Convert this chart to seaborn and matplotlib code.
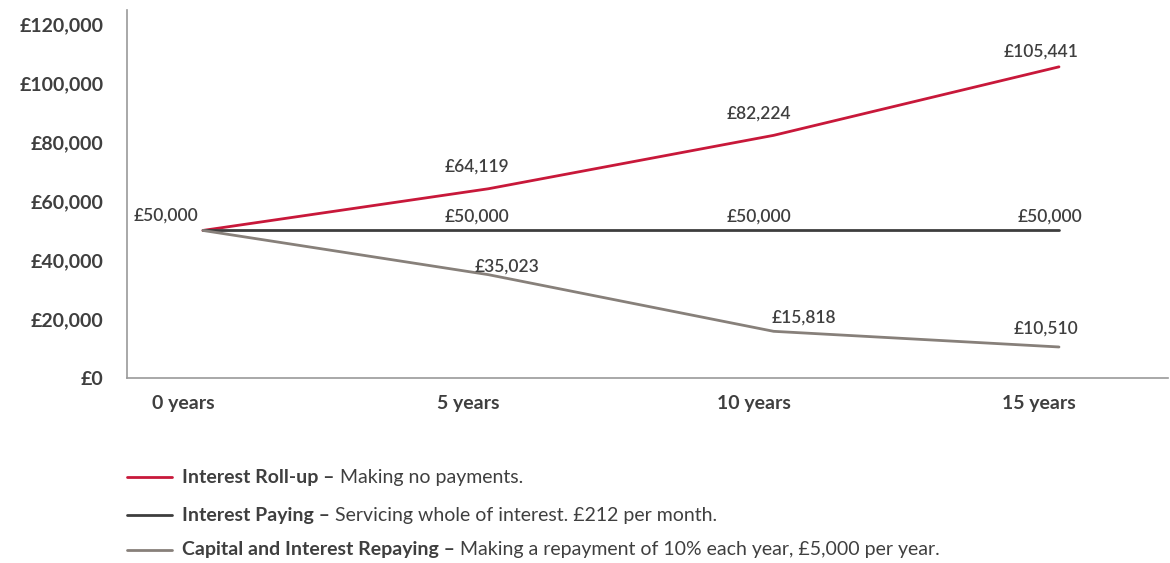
from __future__ import annotations

import matplotlib

matplotlib.use("Agg")

import matplotlib.pyplot as plt
import pandas as pd
import seaborn as sns
from matplotlib.lines import Line2D


YEARS = ["0 years", "5 years", "10 years", "15 years"]
ROLL_UP = [50000, 64119, 82224, 105441]
INTEREST_PAYING = [50000, 50000, 50000, 50000]
CAPITAL_REPAYING = [50000, 35023, 15818, 10510]

SERIES = ["Interest Roll-up", "Interest Paying", "Capital and Interest Repaying"]
SERIES_NOTES = [
    "Making no payments.",
    "Servicing whole of interest. £212 per month.",
    "Making a repayment of 10% each year, £5,000 per year.",
]
Y_TICKS = [0, 20000, 40000, 60000, 80000, 100000, 120000]

COLORS = {
    "Interest Roll-up": "#c8183a",
    "Interest Paying": "#3d3d3d",
    "Capital and Interest Repaying": "#87807a",
}
TEXT = "#3f3f3f"
FONT = "Lato"

# label offsets in pixels (dx, dy) relative to each point
LABEL_OFFSETS = {
    "Interest Roll-up": [None, (-11, 22), (-15, 22), (-18, 15)],
    "Interest Paying": [(-37, 15), (-11, 14), (-15, 14), (-9, 14)],
    "Capital and Interest Repaying": [None, (19, 8), (30, 14), (-13, 18)],
}


def build_frame() -> pd.DataFrame:
    rows = []
    for name, values in zip(SERIES, [ROLL_UP, INTEREST_PAYING, CAPITAL_REPAYING]):
        for year, value in zip(YEARS, values):
            rows.append({"period": year, "value": value, "series": name})
    return pd.DataFrame(rows)


def draw_legend(fig: plt.Figure) -> None:
    renderer = fig.canvas.get_renderer()
    row_y = [477, 515, 550]
    for name, note, y_px in zip(SERIES, SERIES_NOTES, row_y):
        y = 1 - y_px / 563
        fig.add_artist(
            Line2D([127 / 1170, 172 / 1170], [y, y], transform=fig.transFigure,
                   color=COLORS[name], linewidth=2.0)
        )
        bold = fig.text(182 / 1170, y, f"{name} –", fontsize=14, fontweight="bold",
                        color=TEXT, va="center", ha="left", family=FONT)
        box = bold.get_window_extent(renderer=renderer)
        fig.text((box.x1 + 5) / 1170, y, note, fontsize=14, color=TEXT,
                 va="center", ha="left", family=FONT)


def main() -> None:
    sns.set_theme(style="white")
    plt.rcParams["font.family"] = [FONT, "DejaVu Sans"]

    data = build_frame()
    fig = plt.figure(figsize=(11.7, 5.63), dpi=100)
    ax = fig.add_axes([127 / 1170, 1 - 378 / 563, (1168 - 127) / 1170, (378 - 10) / 563])

    sns.lineplot(data=data, x="period", y="value", hue="series", palette=COLORS,
                 sort=False, linewidth=2.0, legend=False, ax=ax)

    ax.set_xlim(-0.266, 3.382)
    ax.set_ylim(0, 124700)
    ax.set_yticks(Y_TICKS)
    ax.set_yticklabels([f"£{v:,.0f}" for v in Y_TICKS], fontsize=14, fontweight="bold", color=TEXT)
    # category labels sit a little left of their points in the original
    ax.set_xticks([i - 0.07 for i in range(len(YEARS))])
    ax.set_xticklabels(YEARS, fontsize=14, fontweight="bold", color=TEXT)
    ax.tick_params(axis="both", length=0)
    ax.tick_params(axis="y", pad=17)
    ax.tick_params(axis="x", pad=12)
    ax.set_xlabel("")
    ax.set_ylabel("")
    for side in ["top", "right"]:
        ax.spines[side].set_visible(False)
    for side in ["left", "bottom"]:
        ax.spines[side].set_color("#9a9a9a")
        ax.spines[side].set_linewidth(1.2)

    for name, values in zip(SERIES, [ROLL_UP, INTEREST_PAYING, CAPITAL_REPAYING]):
        for i, value in enumerate(values):
            offset = LABEL_OFFSETS[name][i]
            if offset is None:
                continue
            ax.annotate(f"£{value:,.0f}", (i, value), xytext=offset, textcoords="offset pixels",
                        ha="center", va="center", fontsize=12.5, fontweight="semibold", color=TEXT)

    draw_legend(fig)
    fig.savefig("out.png", dpi=100)
    plt.close(fig)


if __name__ == "__main__":
    main()
